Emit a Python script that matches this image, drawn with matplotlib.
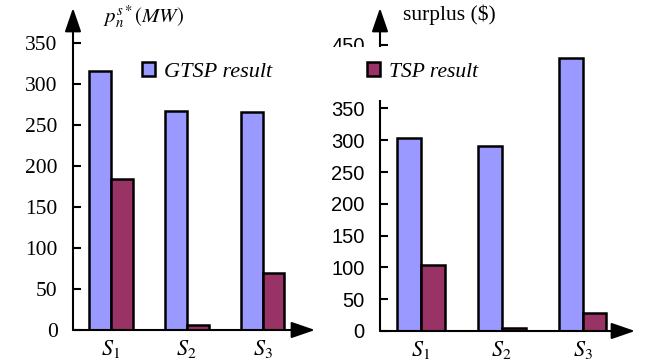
import matplotlib
matplotlib.use("Agg")
import numpy as np
from matplotlib import pyplot as plt
from matplotlib.patches import Rectangle

# values per scenario
scenarios = [r"$S_1$", r"$S_2$", r"$S_3$"]
power_gtsp = [316, 267, 266]
power_tsp = [184, 6, 70]
surplus_gtsp = [303, 291, 430]
surplus_tsp = [104, 4, 29]
power_ticks = [0, 50, 100, 150, 200, 250, 300, 350]
surplus_ticks = [0, 50, 100, 150, 200, 250, 300, 350, 400, 450]

GTSP_COLOR = "#9999FF"
TSP_COLOR = "#993366"

plt.rcParams["mathtext.fontset"] = "stix"
plt.rcParams["font.family"] = ["Liberation Serif", "DejaVu Serif"]

W, H = 657, 364
fig = plt.figure(figsize=(W / 100, H / 100), dpi=100)


def px_axes(x0, y0, x1, y1):
    # axes rectangle given in pixel coords (y measured from the top)
    return fig.add_axes([x0 / W, 1 - y1 / H, (x1 - x0) / W, (y1 - y0) / H])


def draw_axes_arrows(ax):
    for s in ax.spines.values():
        s.set_visible(False)
    arrow = dict(arrowstyle="-|>,head_length=1.45,head_width=0.5",
                 color="black", lw=1.5, shrinkA=0, shrinkB=0, mutation_scale=10)
    ax.annotate("", xy=(0, 1), xytext=(0, 0), xycoords="axes fraction",
                arrowprops=arrow, annotation_clip=False)
    ax.annotate("", xy=(1, 0), xytext=(0, 0), xycoords="axes fraction",
                arrowprops=arrow, annotation_clip=False)


def bars(ax, a, b, width):
    x = np.arange(len(scenarios))
    ga = ax.bar(x - width / 2, a, width, color=GTSP_COLOR, edgecolor="black", lw=1.8, zorder=3)
    gb = ax.bar(x + width / 2, b, width, color=TSP_COLOR, edgecolor="black", lw=1.8, zorder=3)
    ax.set_xticks(x)
    ax.set_xticklabels(scenarios, fontsize=16)
    ax.tick_params(axis="x", length=0, pad=6)
    return ga, gb


# left panel: power
ax1 = px_axes(73, 8, 315, 330)
g1, t1 = bars(ax1, power_gtsp, power_tsp, 0.29)
ax1.set_xlim(-0.502, 2.693)
ax1.set_ylim(0, 322 / 0.82)
ax1.set_yticks(power_ticks)
ax1.tick_params(axis="y", direction="in", length=6, width=1.5, pad=11, labelsize=15.5)
draw_axes_arrows(ax1)
fig.text(103 / W, 1 - 17 / H, r"$p_n^{s*}(MW)$", fontsize=15, va="center", ha="left")

# right panel: surplus
ax2 = px_axes(380, 8, 635, 331)
g2, t2 = bars(ax2, surplus_gtsp, surplus_tsp, 0.297)
ax2.set_xlim(-0.508, 2.65)
ax2.set_ylim(0, 323 / 0.636)
ax2.set_yticks(surplus_ticks)
ax2.tick_params(axis="y", direction="in", length=6, width=1.5, pad=11, labelsize=14.5)
for lbl in ax2.get_yticklabels():
    lbl.set_family(["Liberation Sans", "DejaVu Sans"])
draw_axes_arrows(ax2)
fig.text(403 / W, 1 - 15 / H, r"surplus (\$)", fontsize=15.5, va="center", ha="left")

# legends
fig.legend([g1], ["GTSP result"], loc="center left", bbox_to_anchor=(142 / W, 1 - 72 / H),
           frameon=False, borderpad=0, borderaxespad=0, handlelength=0.6, handleheight=0.6,
           handletextpad=0.4, prop=dict(style="italic", size=16))
fig.add_artist(Rectangle((322 / W, 1 - 100 / H), 173 / W, 53 / H, transform=fig.transFigure,
                         facecolor="white", edgecolor="none", zorder=4))
fig.legend([t2], ["TSP result"], loc="center left", bbox_to_anchor=(367 / W, 1 - 72 / H),
           frameon=False, borderpad=0, borderaxespad=0, handlelength=0.6, handleheight=0.6,
           handletextpad=0.4, prop=dict(style="italic", size=15.5))

fig.savefig("out.png", dpi=100)
